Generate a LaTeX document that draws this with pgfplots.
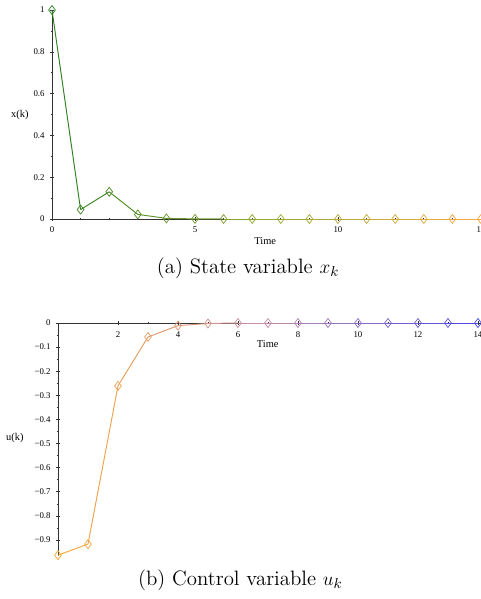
\documentclass[border=0pt]{standalone}
\usepackage{fontspec}
\usepackage{pgfplots}
\pgfplotsset{compat=1.18}
\newfontfamily\tnr{Liberation Serif}

\pgfplotstableread{
k xk
0 1
1 0.045
2 0.13
3 0.022
4 0.003
5 0.0005
6 0
7 0
8 0
9 0
10 0
11 0
12 0
13 0
14 0
15 0
}\statetab

\pgfplotstableread{
k uk
0 -0.963
1 -0.917
2 -0.261
3 -0.058
4 -0.011
5 -0.002
6 0
7 0
8 0
9 0
10 0
11 0
12 0
13 0
14 0
}\controltab

\pgfplotsset{
  maple/.style={
    scale only axis, clip=false,
    major tick length=2.2pt, minor tick length=1.3pt,
    tick align=outside,
    tick style={black!80, line width=0.4pt},
    tick label style={font=\tnr\fontsize{5.5}{6}\selectfont},
  },
  mapleaxis/.style={
    axis line style={-, black!80, line width=0.4pt},
    every inner x axis line/.append style={-},
    every inner y axis line/.append style={-},
    every outer x axis line/.append style={-},
    every outer y axis line/.append style={-},
  },
}

\begin{document}
\begin{tikzpicture}
\useasboundingbox (0,0) rectangle (300.1pt,-373.8pt);

% (a) state variable
\begin{axis}[maple,
  at={(32.45pt,-136.66pt)}, anchor=south west,
  width=267.7pt, height=130.4pt,
  xmin=0, xmax=15, ymin=0, ymax=1,
  axis lines=left, mapleaxis,
  xtick={0,5,10,15}, minor x tick num=4,
  ytick={0,0.2,0.4,0.6,0.8,1},
  yticklabels={0,0.2,0.4,0.6,0.8,1},
  xticklabels={0,5,10,15},
  minor y tick num=1,
  xlabel={Time}, ylabel={x(k)},
  xlabel style={at={(axis description cs:0.497,-0.105)}, anchor=center,
    font=\tnr\fontsize{6.5}{7}\selectfont},
  ylabel style={at={(axis description cs:-0.075,0.498)}, anchor=center, rotate=-90,
    font=\tnr\fontsize{6.5}{7}\selectfont},
  colormap={stategrad}{rgb255(0)=(45,125,35); rgb255(1)=(150,170,50); rgb255(2)=(250,170,70)},
  point meta min=0, point meta max=15,
]
\addplot[mesh, point meta=x, line width=0.6pt] table[x=k, y=xk] {\statetab};
\addplot[scatter, only marks, point meta=x, mark=diamond, mark size=2.8pt,
  mark options={line width=0.45pt},
  scatter/use mapped color={draw=mapped color, fill=none}] table[x=k, y=xk] {\statetab};
\end{axis}

\node[font=\fontsize{13}{15}\selectfont] at (154.8pt,-167.2pt) {(a) State variable $x_k$};

% (b) control variable
\begin{axis}[maple,
  at={(36.19pt,-346.76pt)}, anchor=south west,
  width=263.95pt, height=145.2pt,
  xmin=0, xmax=14.1, ymin=-0.965, ymax=0,
  axis x line=middle, axis y line=left, mapleaxis,
  xtick={2,4,...,14}, minor x tick num=1,
  xticklabels={2,4,6,8,10,12,14},
  ytick={-0.9,-0.8,-0.7,-0.6,-0.5,-0.4,-0.3,-0.2,-0.1,0},
  yticklabels={−0.9,−0.8,−0.7,−0.6,−0.5,−0.4,−0.3,−0.2,−0.1,0},
  minor y tick num=1,
  xticklabel style={anchor=north, yshift=-1pt},
  xlabel={Time}, ylabel={u(k)},
  xlabel style={at={(axis description cs:0.496,0.91)}, anchor=center,
    font=\tnr\fontsize{6.5}{7}\selectfont},
  ylabel style={at={(axis description cs:-0.102,0.506)}, anchor=center, rotate=-90,
    font=\tnr\fontsize{6.5}{7}\selectfont},
  colormap={controlgrad}{rgb255(0)=(250,170,50); rgb255(1)=(195,140,170); rgb255(2)=(70,70,230)},
  point meta min=0, point meta max=14,
]
\addplot[mesh, point meta=x, line width=0.6pt] table[x=k, y=uk] {\controltab};
\addplot[scatter, only marks, point meta=x, mark=diamond, mark size=2.8pt,
  mark options={line width=0.45pt},
  scatter/use mapped color={draw=mapped color, fill=none}] table[x=k, y=uk] {\controltab};
\end{axis}

\node[font=\fontsize{13}{15}\selectfont] at (150pt,-361.9pt) {(b) Control variable $u_k$};
\end{tikzpicture}
\end{document}
